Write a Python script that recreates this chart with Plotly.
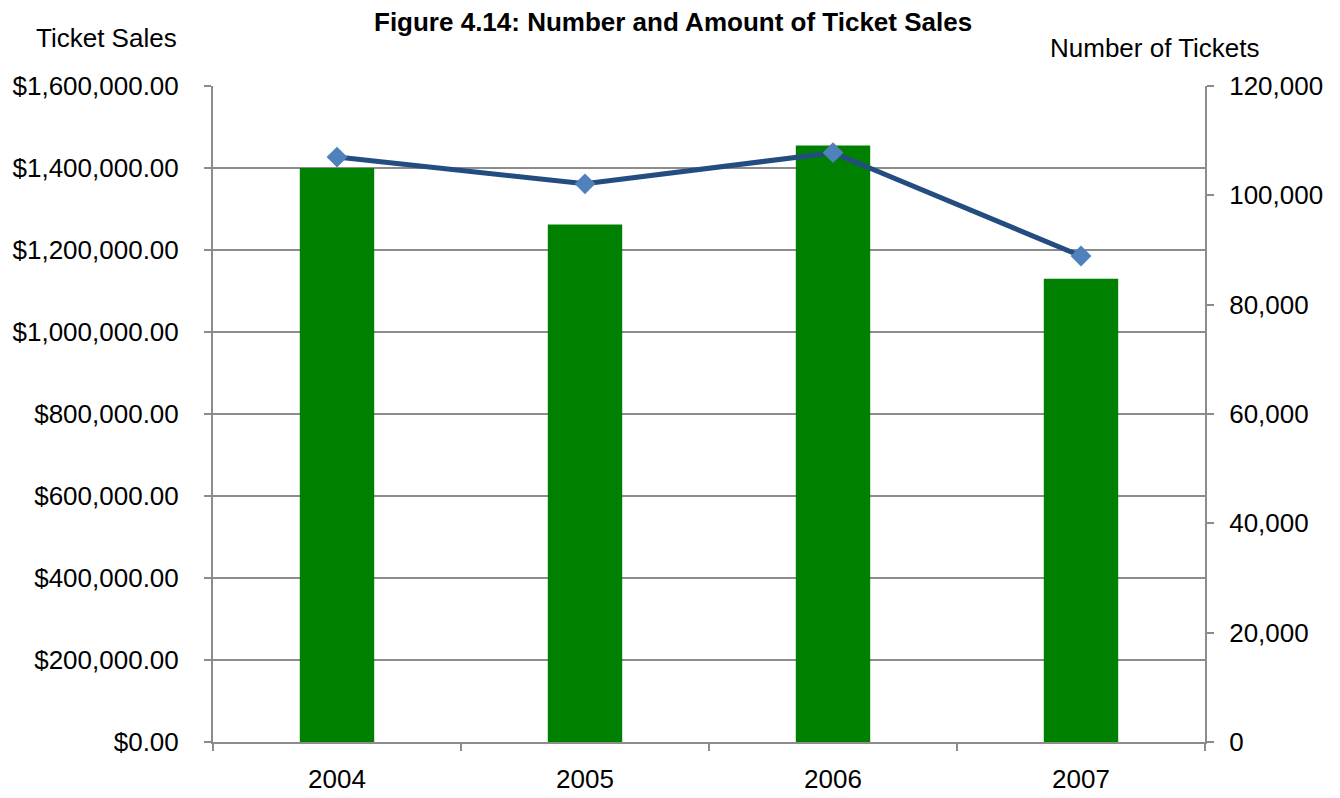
import plotly.graph_objects as go

# Chart data
years = ["2004", "2005", "2006", "2007"]
ticket_sales = [1400000, 1262000, 1455000, 1130000]
ticket_counts = [107000, 102100, 107800, 88900]

FONT = "Liberation Sans, Arial, sans-serif"
GRID = "#8c8c8c"

W, H = 1340, 798
ML, MR, MT, MB = 213, 135, 86, 56

fig = go.Figure()

fig.add_trace(go.Bar(
    x=years, y=ticket_sales, name="Ticket Sales",
    marker=dict(color="#008000", line=dict(width=0)),
    yaxis="y",
))

fig.add_trace(go.Scatter(
    x=years, y=ticket_counts, name="Number of Tickets",
    mode="lines+markers",
    line=dict(color="#234D80", width=5),
    marker=dict(symbol="diamond", size=16, color="#4F81BD"),
    yaxis="y2",
))


def px_to_paper(x, y_from_top):
    """Convert page pixel coordinates to paper coordinates."""
    return (x - ML) / (W - ML - MR), (H - y_from_top - MB) / (H - MT - MB)


headers = [
    ("<b>Figure 4.14: Number and Amount of Ticket Sales</b>", 673, 22),
    ("Ticket Sales", 106, 38),
    ("Number of Tickets", 1155, 48),
]
annotations = []
for text, px, py in headers:
    ax, ay = px_to_paper(px, py)
    annotations.append(dict(
        text=text, x=ax, y=ay, xref="paper", yref="paper",
        xanchor="center", yanchor="middle", showarrow=False,
        font=dict(size=26),
    ))

fig.update_layout(
    width=W, height=H,
    margin=dict(l=ML, r=MR, t=MT, b=MB),
    paper_bgcolor="white", plot_bgcolor="white",
    showlegend=False,
    bargap=0.7,
    font=dict(family=FONT, size=26, color="black"),
    xaxis=dict(
        type="category",
        automargin=False,
        showgrid=False,
        showline=True, linecolor=GRID, linewidth=2,
        ticks="outside", tickson="boundaries", ticklen=7, tickcolor=GRID, tickwidth=2,
        ticklabelstandoff=13,
    ),
    yaxis=dict(
        range=[0, 1600000], dtick=200000, tickformat="$,.2f",
        automargin=False,
        showgrid=True, gridcolor=GRID, gridwidth=2,
        showline=True, linecolor=GRID, linewidth=2,
        ticks="outside", ticklen=7, tickcolor=GRID, tickwidth=2,
        ticklabelstandoff=20,
        zeroline=False,
    ),
    yaxis2=dict(
        overlaying="y", side="right",
        range=[0, 120000], dtick=20000, tickformat=",",
        automargin=False,
        showgrid=False,
        showline=True, linecolor=GRID, linewidth=2,
        ticks="outside", ticklen=7, tickcolor=GRID, tickwidth=2,
        ticklabelstandoff=10,
        zeroline=False,
    ),
    annotations=annotations,
)

fig.write_html("out.html")
